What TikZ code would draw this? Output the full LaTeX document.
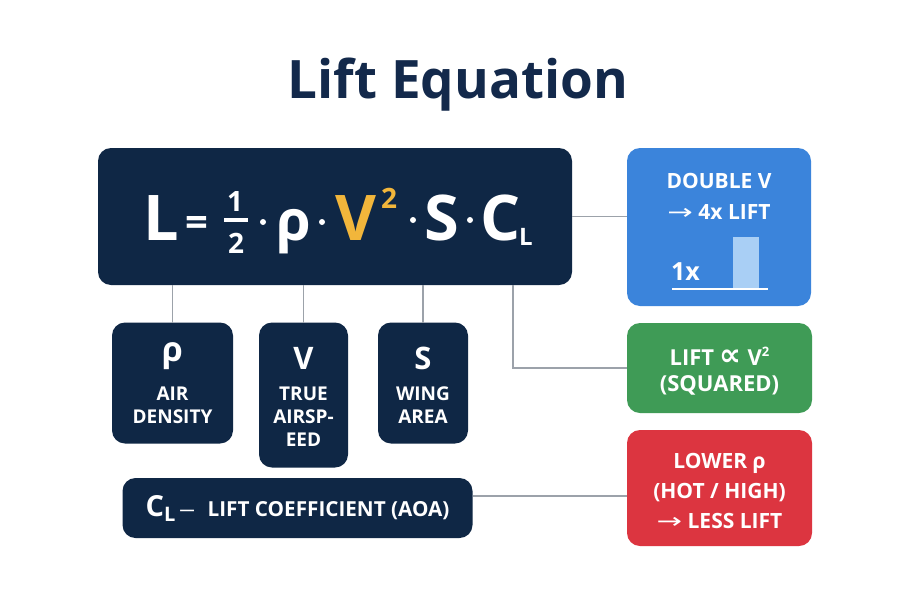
\documentclass[tikz,border=0pt]{standalone}
\usepackage{fontspec}
\setmainfont{Open Sans}
\newfontfamily\symf{DejaVu Sans}
\newcommand\myfs[1]{\fontsize{#1}{#1}\selectfont}
\newcommand\longarr{{\symf\mdseries\scalebox{1.45}[1]{→}}}
\definecolor{navyc}{HTML}{0F2745}
\definecolor{titlec}{HTML}{13294B}
\definecolor{bluec}{HTML}{3B84DB}
\definecolor{greenc}{HTML}{3F9B56}
\definecolor{redc}{HTML}{DC3540}
\definecolor{barc}{HTML}{A9CFF5}
\definecolor{goldc}{HTML}{F2B63B}
\definecolor{lineg}{HTML}{9CA2AA}
\tikzset{
  box/.style={inner sep=0pt, outer sep=0pt, draw=none, rounded corners=13pt},
  navybox/.style={box, fill=navyc},
  conn/.style={draw=lineg, line width=1.1pt},
  wt/.style={text=white, inner sep=0pt, outer sep=0pt, anchor=base, font=\bfseries\myfs{#1}},
  eqt/.style={text=white, inner sep=0pt, outer sep=0pt, anchor=base west, font=\bfseries\myfs{#1}},
}
\begin{document}
\begin{tikzpicture}[x=1pt,y=-1pt]
\fill[white] (0,0) rectangle (900,600);
\useasboundingbox (0,0) rectangle (900,600);

% title
\node[wt=53, text=titlec] (title) at (458,98) {Lift Equation};

% boxes
\node[navybox, minimum width=474, minimum height=137] (eq) at (335,216.5) {};
\node[navybox, minimum width=121, minimum height=121] (rho) at (172.5,383) {};
\node[navybox, minimum width=89, minimum height=145] (vel) at (303.5,395) {};
\node[navybox, minimum width=90, minimum height=121] (area) at (423,383) {};
\node[navybox, minimum width=350, minimum height=60] (cl) at (297.5,508) {};
\node[box, fill=bluec, minimum width=184, minimum height=158] (blue) at (719,227) {};
\node[box, fill=greenc, minimum width=185, minimum height=90] (green) at (719.5,368) {};
\node[box, fill=redc, minimum width=185, minimum height=116] (red) at (719.5,488) {};

% connectors
\draw[conn] (rho.north |- eq.south) -- (rho.north);
\draw[conn] (vel.north |- eq.south) -- (vel.north);
\draw[conn] (area.north |- eq.south) -- (area.north);
\draw[conn] ([xshift=178pt]eq.south) |- (green.west);
\draw[conn] (eq.east) -- (eq.east -| blue.west);
\draw[conn] ([yshift=12pt]cl.east) -- ([yshift=12pt]cl.east -| red.west);

% equation
\node[eqt=63] (eL) at (143,240) {L};
\node[eqt=40] (eeq) at (185,236) {=};
\node[wt=28] (f1) at (235,211) {1};
\node[wt=28, anchor=center] (fbar) at (236,220) {\color{white}\rule{24pt}{3.5pt}};
\node[wt=28] (f2) at (236,253) {2};
\fill[white] (263,222) circle (3pt);
\node[eqt=56] (erho) at (276,240) {ρ};
\fill[white] (322,222) circle (3pt);
\node[eqt=63, text=goldc] (eV) at (335,240) {V};
\node[eqt=28, text=goldc] (e2) at (381,208) {2};
\fill[white] (413,220) circle (3pt);
\node[eqt=63] (eS) at (424,240) {S};
\fill[white] (470,220) circle (3pt);
\node[eqt=63] (eC) at (480,240) {C};
\node[eqt=24] (eLs) at (519,245) {L};

% small boxes text
\node[wt=34] (t1) at (rho.center |- 0,361) {ρ};
\node[wt=19] (t2) at (rho.center |- 0,400) {AIR};
\node[wt=19] (t3) at (rho.center |- 0,423) {DENSITY};
\node[wt=31] (t4) at (vel.center |- 0,369) {V};
\node[wt=19] (t5) at (vel.center |- 0,400) {TRUE};
\node[wt=19] (t6) at (vel.center |- 0,423) {AIRSP-};
\node[wt=19] (t7) at (vel.center |- 0,446) {EED};
\node[wt=31] (t8) at (area.center |- 0,369) {S};
\node[wt=19] (t9) at (area.center |- 0,400) {WING};
\node[wt=19] (t10) at (area.center |- 0,423) {AREA};

% CL box text
\node[wt=20.7] (cltext) at (297.5,516) {\myfs{29}C\raisebox{-5pt}{\myfs{20}L}\myfs{20.7}\,{\mdseries\scalebox{1.6}[1]{–}}\,\, LIFT COEFFICIENT (AOA)};

% blue box
\node[wt=21] (b1) at (719,188) {DOUBLE V};
\node[wt=21] (b2) at (719,219) {\longarr\ 4x LIFT};
\fill[barc] (733,237) rectangle (759,289);
\draw[white, line width=1.6pt] (672,289) -- (768,289);
\node[eqt=25] (b3) at (671,280) {1x};

% green box
\node[wt=22] (g1) at (719.5,365) {LIFT {\symf\scalebox{1.4}{∝}} V\raisebox{9pt}{\myfs{13}2}};
\node[wt=22] (g2) at (719.5,391) {(SQUARED)};

% red box
\node[wt=21] (r1) at (719.5,468) {LOWER ρ};
\node[wt=21] (r2) at (719.5,498) {(HOT / HIGH)};
\node[wt=21] (r3) at (719.5,528) {\longarr\ LESS LIFT};
\end{tikzpicture}
\end{document}
